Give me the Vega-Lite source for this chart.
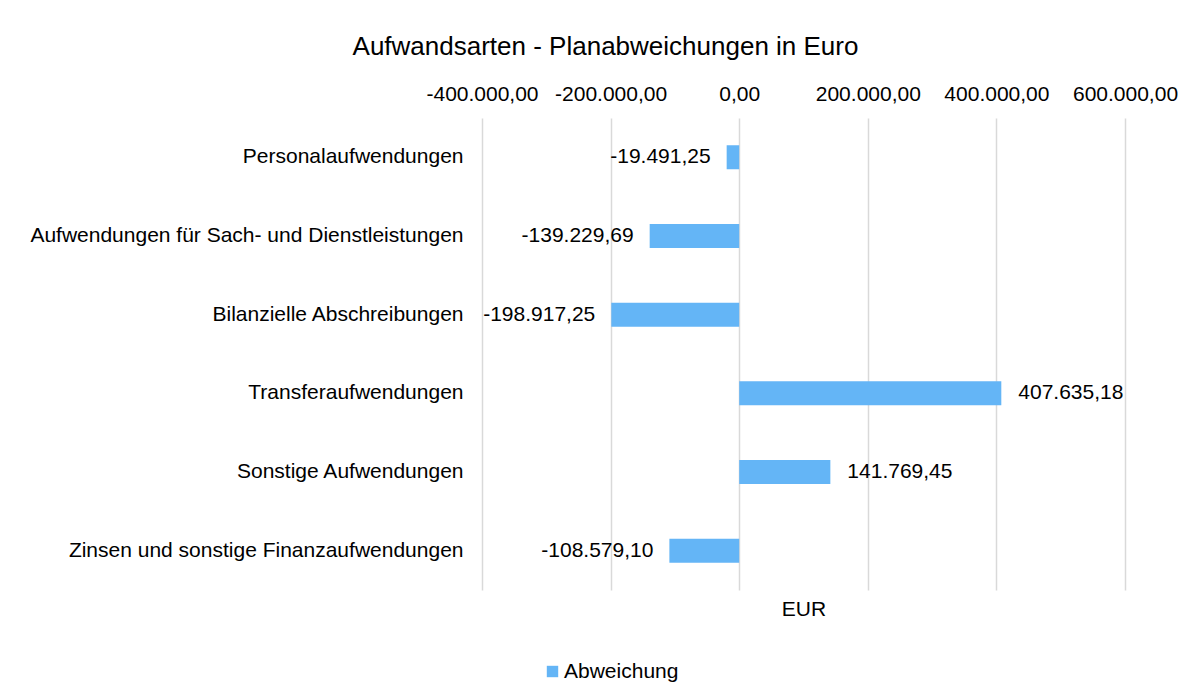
{
  "$schema": "https://vega.github.io/schema/vega-lite/v6.json",
  "autosize": "none",
  "width": 643,
  "height": 472,
  "padding": {"left": 482, "top": 118, "right": 68, "bottom": 109},
  "background": "white",
  "title": {"text": "Aufwandsarten - Planabweichungen in Euro", "anchor": "middle", "dx": -198, "offset": 23, "fontSize": 26, "fontWeight": "normal", "font": "Liberation Sans", "color": "#000000"},
  "data": {"values": [
    {"Kategorie": "Personalaufwendungen", "Abweichung": -19491.25, "Serie": "Abweichung"},
    {"Kategorie": "Aufwendungen für Sach- und Dienstleistungen", "Abweichung": -139229.69, "Serie": "Abweichung"},
    {"Kategorie": "Bilanzielle Abschreibungen", "Abweichung": -198917.25, "Serie": "Abweichung"},
    {"Kategorie": "Transferaufwendungen", "Abweichung": 407635.18, "Serie": "Abweichung"},
    {"Kategorie": "Sonstige Aufwendungen", "Abweichung": 141769.45, "Serie": "Abweichung"},
    {"Kategorie": "Zinsen und sonstige Finanzaufwendungen", "Abweichung": -108579.10, "Serie": "Abweichung"}
  ]},
  "encoding": {
    "y": {"field": "Kategorie", "type": "nominal", "sort": null,
      "scale": {"paddingInner": 0.695, "paddingOuter": 0.3475},
      "axis": {"title": null, "ticks": false, "domain": false, "labelPadding": 19, "labelFontSize": 21, "labelFont": "Liberation Sans", "labelColor": "#000000", "labelLimit": 600}}
  },
  "layer": [
    {
      "mark": {"type": "bar", "color": "#64B5F6"},
      "encoding": {
        "x": {"field": "Abweichung", "type": "quantitative",
          "scale": {"domain": [-400000, 600000], "nice": false, "zero": false},
          "axis": {"orient": "top", "title": null, "values": [-400000, -200000, 0, 200000, 400000, 600000], "format": ",.2f", "labelOverlap": false, "labelBound": false, "labelFlush": false, "ticks": false, "domain": false, "labelPadding": 14, "labelFontSize": 21, "labelFont": "Liberation Sans", "labelColor": "#000000", "grid": true, "gridColor": "#d9d9d9", "gridWidth": 1.5}},
        "color": {"field": "Serie", "type": "nominal", "scale": {"range": ["#64B5F6"]},
          "legend": {"title": null, "orient": "none", "legendX": 60, "legendY": 543, "symbolType": "square", "symbolSize": 130, "labelOffset": 1, "labelFontSize": 21, "labelFont": "Liberation Sans", "labelColor": "#000000", "symbolStrokeWidth": 0}}
      }
    },
    {
      "transform": [{"filter": "datum.Abweichung < 0"}],
      "mark": {"type": "text", "align": "right", "dx": -16, "fontSize": 21, "font": "Liberation Sans", "color": "#000000"},
      "encoding": {
        "x": {"field": "Abweichung", "type": "quantitative",
          "axis": {"orient": "bottom", "title": "EUR", "labels": false, "ticks": false, "domain": false, "grid": false, "titleFontSize": 21, "titleFont": "Liberation Sans", "titleFontWeight": "normal", "titleColor": "#000000", "titlePadding": 8}},
        "text": {"field": "Abweichung", "type": "quantitative", "format": ",.2f"}
      }
    },
    {
      "transform": [{"filter": "datum.Abweichung >= 0"}],
      "mark": {"type": "text", "align": "left", "dx": 17, "fontSize": 21, "font": "Liberation Sans", "color": "#000000"},
      "encoding": {
        "x": {"field": "Abweichung", "type": "quantitative", "axis": null},
        "text": {"field": "Abweichung", "type": "quantitative", "format": ",.2f"}
      }
    }
  ],
  "resolve": {"axis": {"x": "independent"}},
  "config": {
    "locale": {"number": {"decimal": ",", "thousands": ".", "grouping": [3], "currency": ["", " €"], "minus": "-"}},
    "view": {"stroke": null}
  }
}
